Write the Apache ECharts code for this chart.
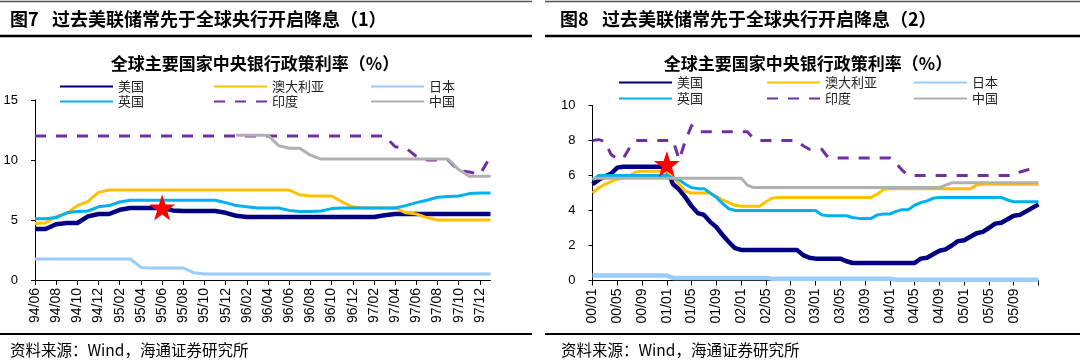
<!DOCTYPE html>
<html><head><meta charset="utf-8">
<script src="https://cdn.jsdelivr.net/npm/echarts@6/dist/echarts.min.js"></script>
<style>html,body{margin:0;padding:0;background:#fff}#c{width:1080px;height:360px}</style>
</head><body><div id="c"></div>
<script>
// ---- Left chart (图7) ----
const catL = ['94/06','94/07','94/08','94/09','94/10','94/11','94/12','95/01','95/02','95/03','95/04','95/05','95/06','95/07','95/08','95/09','95/10','95/11','95/12','96/01','96/02','96/03','96/04','96/05','96/06','96/07','96/08','96/09','96/10','96/11','96/12','97/01','97/02','97/03','97/04','97/05','97/06','97/07','97/08','97/09','97/10','97/11','97/12','98/01'];
const usL = [4.25,4.25,4.65,4.75,4.75,5.3,5.5,5.5,5.85,6.0,6.0,6.0,6.0,5.8,5.75,5.75,5.75,5.75,5.6,5.35,5.25,5.25,5.25,5.25,5.25,5.25,5.25,5.25,5.25,5.25,5.25,5.25,5.25,5.4,5.5,5.5,5.5,5.5,5.5,5.5,5.5,5.5,5.5,5.5];
const auL = [4.7,4.75,5.3,5.55,6.2,6.55,7.3,7.5,7.5,7.5,7.5,7.5,7.5,7.5,7.5,7.5,7.5,7.5,7.5,7.5,7.5,7.5,7.5,7.5,7.5,7.1,7.0,7.0,7.0,6.5,6.1,6.0,6.0,6.0,6.0,5.6,5.5,5.2,5.0,5.0,5.0,5.0,5.0,5.0];
const jpL = [1.75,1.75,1.75,1.75,1.75,1.75,1.75,1.75,1.75,1.75,1.05,1.0,1.0,1.0,1.0,0.6,0.5,0.5,0.5,0.5,0.5,0.5,0.5,0.5,0.5,0.5,0.5,0.5,0.5,0.5,0.5,0.5,0.5,0.5,0.5,0.5,0.5,0.5,0.5,0.5,0.5,0.5,0.5,0.5];
const ukL = [5.1,5.1,5.2,5.6,5.7,5.75,6.1,6.2,6.5,6.65,6.65,6.65,6.65,6.65,6.65,6.65,6.65,6.65,6.45,6.2,6.1,6.0,6.0,6.0,5.8,5.7,5.7,5.75,5.95,6.0,6.0,6.0,6.0,6.0,6.0,6.2,6.45,6.65,6.9,6.95,7.0,7.2,7.25,7.25];
const inL = [12,12,12,12,12,12,12,12,12,12,12,12,12,12,12,12,12,12,12,12,12,12,12,12,12,12,12,12,12,12,12,12,12,12,11.1,11.0,10.3,10.0,10.0,10.0,9.1,9.0,8.8,10.3];
const cnL = [null,null,null,null,null,null,null,null,null,null,null,null,null,null,null,null,null,null,null,12.06,12.06,12.06,12.06,11.2,10.98,10.98,10.4,10.08,10.08,10.08,10.08,10.08,10.08,10.08,10.08,10.08,10.08,10.08,10.08,10.08,9.2,8.64,8.64,8.64];
const starL = ['95/06', 6.05];

// ---- Right chart (图8) ----
const catR = ['00/01','00/02','00/03','00/04','00/05','00/06','00/07','00/08','00/09','00/10','00/11','00/12','01/01','01/02','01/03','01/04','01/05','01/06','01/07','01/08','01/09','01/10','01/11','01/12','02/01','02/02','02/03','02/04','02/05','02/06','02/07','02/08','02/09','02/10','02/11','02/12','03/01','03/02','03/03','03/04','03/05','03/06','03/07','03/08','03/09','03/10','03/11','03/12','04/01','04/02','04/03','04/04','04/05','04/06','04/07','04/08','04/09','04/10','04/11','04/12','05/01','05/02','05/03','05/04','05/05','05/06','05/07','05/08','05/09','05/10','05/11','05/12','06/01'];
const usR = [5.5,5.75,5.95,6.1,6.45,6.5,6.5,6.5,6.5,6.5,6.5,6.5,6.4,5.5,5.2,4.75,4.25,3.85,3.75,3.35,3.05,2.6,2.2,1.85,1.75,1.75,1.75,1.75,1.75,1.75,1.75,1.75,1.75,1.75,1.45,1.3,1.25,1.25,1.25,1.25,1.25,1.1,1.0,1.0,1.0,1.0,1.0,1.0,1.0,1.0,1.0,1.0,1.0,1.25,1.3,1.5,1.7,1.78,2.0,2.25,2.3,2.5,2.7,2.78,3.0,3.25,3.3,3.5,3.7,3.75,3.95,4.15,4.35];
const auR = [5.0,5.3,5.5,5.65,5.8,5.85,6.0,6.2,6.25,6.25,6.25,6.25,6.25,5.9,5.5,5.1,5.0,5.0,5.0,5.0,4.8,4.6,4.45,4.3,4.25,4.25,4.25,4.25,4.5,4.7,4.75,4.75,4.75,4.75,4.75,4.75,4.75,4.75,4.75,4.75,4.75,4.75,4.75,4.75,4.75,4.75,4.95,5.2,5.25,5.25,5.25,5.25,5.25,5.25,5.25,5.25,5.25,5.25,5.25,5.25,5.25,5.25,5.45,5.5,5.5,5.5,5.5,5.5,5.5,5.5,5.5,5.5,5.5];
const jpR = [0.28,0.28,0.28,0.28,0.28,0.28,0.28,0.28,0.28,0.28,0.28,0.28,0.28,0.15,0.15,0.15,0.15,0.15,0.15,0.15,0.15,0.15,0.15,0.15,0.15,0.15,0.15,0.15,0.15,0.1,0.1,0.1,0.1,0.1,0.1,0.1,0.1,0.1,0.1,0.1,0.1,0.1,0.1,0.1,0.1,0.1,0.1,0.1,0.1,0.05,0.05,0.05,0.05,0.05,0.05,0.05,0.05,0.05,0.05,0.05,0.05,0.05,0.05,0.05,0.05,0.05,0.05,0.05,0.05,0.05,0.05,0.05,0.05];
const ukR = [5.75,6.0,6.0,6.0,6.0,6.0,6.0,6.0,6.0,6.0,6.0,6.0,6.0,5.85,5.75,5.5,5.3,5.25,5.25,5.0,4.75,4.4,4.1,4.0,4.0,4.0,4.0,4.0,4.0,4.0,4.0,4.0,4.0,4.0,4.0,4.0,4.0,3.75,3.7,3.7,3.7,3.7,3.6,3.55,3.55,3.55,3.75,3.8,3.8,3.95,4.05,4.05,4.3,4.45,4.55,4.7,4.75,4.75,4.75,4.75,4.75,4.75,4.75,4.75,4.75,4.75,4.75,4.6,4.5,4.5,4.5,4.5,4.5];
const inR = [8.0,8.05,7.95,7.2,6.95,7.0,7.6,8.0,8.0,8.0,8.0,8.0,8.0,8.0,6.9,8.0,8.85,8.5,8.5,8.5,8.5,8.5,8.5,8.5,8.5,8.5,8.1,8.0,8.0,8.0,8.0,8.0,8.0,8.0,7.7,7.5,7.5,7.5,7.05,7.0,7.0,7.0,7.0,7.0,7.0,7.0,7.0,7.0,7.0,6.7,6.3,6.0,6.0,6.0,6.0,6.0,6.0,6.0,6.0,6.0,6.0,6.0,6.0,6.0,6.0,6.0,6.0,6.0,6.0,6.2,6.3,6.4,6.5];
const cnR = [5.85,5.85,5.85,5.85,5.85,5.85,5.85,5.85,5.85,5.85,5.85,5.85,5.85,5.85,5.85,5.85,5.85,5.85,5.85,5.85,5.85,5.85,5.85,5.85,5.85,5.45,5.31,5.31,5.31,5.31,5.31,5.31,5.31,5.31,5.31,5.31,5.31,5.31,5.31,5.31,5.31,5.31,5.31,5.31,5.31,5.31,5.31,5.31,5.31,5.31,5.31,5.31,5.31,5.31,5.31,5.31,5.31,5.45,5.58,5.58,5.58,5.58,5.58,5.58,5.58,5.58,5.58,5.58,5.58,5.58,5.58,5.58,5.58];
const starR = ['01/01', 6.66];

const names = ['美国','澳大利亚','日本','英国','印度','中国'];
const yTicksL = {min:0, max:15, interval:5};
const yTicksR = {min:0, max:10, interval:2};

const colors = {'美国':'#000080','澳大利亚':'#FFC000','日本':'#99CCFF','英国':'#00B0F0','印度':'#7030A0','中国':'#B0B0B0'};
const widths = {'美国':4.5,'澳大利亚':3,'日本':3,'英国':3,'印度':3,'中国':3};
const STAR = 'path://M50,0 L61.8,35.1 L98.1,35.1 L68.8,56.8 L79.4,91 L50,70 L20.6,91 L31.2,56.8 L1.9,35.1 L38.2,35.1 Z';
const CJK = '"Noto Sans CJK SC", sans-serif';
const LAT = '"Liberation Sans", Arial, sans-serif';

function mkSeries(gi, dataArr, star, jpWidth){
  return names.map((n, i) => {
    const s = {
      name: n, type: 'line', xAxisIndex: gi, yAxisIndex: gi, data: dataArr[i],
      symbol: 'none', smooth: false, connectNulls: false,
      lineStyle: {color: colors[n], width: (n==='日本'? jpWidth : widths[n]), type: (n==='印度' ? [11,10] : 'solid'), join:'round'},
      itemStyle: {color: colors[n]}, z: 2 + i
    };
    if (n === '美国') {
      s.markPoint = {symbol: STAR, symbolSize: [26,26], itemStyle:{color:'#FF0000'}, label:{show:false}, z: 20,
        data: [{coord: star}]};
    }
    return s;
  });
}

function mkX(gi, cats, labelFn, tickFn){
  return {type:'category', gridIndex:gi, data:cats, boundaryGap:false,
    axisLine:{show:true, lineStyle:{color:'#000', width:1}},
    axisTick:{show:true, interval:tickFn, length:5, lineStyle:{color:'#000'}},
    axisLabel:{interval:labelFn, rotate:90, fontSize:14, fontFamily:LAT, color:'#000', margin:8},
    splitLine:{show:false}};
}
function mkY(gi, t){
  return {type:'value', gridIndex:gi, min:t.min, max:t.max, interval:t.interval,
    axisLine:{show:true, lineStyle:{color:'#000', width:1}},
    axisTick:{show:true, length:4, lineStyle:{color:'#000'}},
    axisLabel:{fontSize:13, fontFamily:LAT, color:'#000', margin:17},
    splitLine:{show:false}};
}

function legendItem(name, x, yc){
  return {data:[name], left:x, top:yc-7, itemWidth:53, itemHeight:14, padding:0, itemGap:0,
    selectedMode:false, itemStyle:{color:'rgba(0,0,0,0)', borderWidth:0, opacity:0},
    textStyle:{fontSize:13, fontFamily:CJK, color:'#222'}};
}

const legends = [
  legendItem('美国', 59, 87), legendItem('澳大利亚', 213, 87), legendItem('日本', 370, 87),
  legendItem('英国', 59, 102), legendItem('印度', 213, 102), legendItem('中国', 370, 102),
  legendItem('美国', 618, 83), legendItem('澳大利亚', 766, 83), legendItem('日本', 913, 83),
  legendItem('英国', 618, 99), legendItem('印度', 766, 99), legendItem('中国', 913, 99)
];

function txt(x, y, s, size, weight, align, fam){
  return {type:'text', x:x, y:y, silent:true, style:{text:s, fontSize:size, fontWeight:weight, fontFamily:fam||CJK, fill:'#000', textAlign:align||'left', textVerticalAlign:'middle'}};
}
function ln(x1,y1,x2,y2,w,c){
  return {type:'line', silent:true, shape:{x1:x1,y1:y1,x2:x2,y2:y2}, style:{stroke:c||'#000', lineWidth:w}};
}

const graphics = [
  ln(0,1.5,532,1.5,1.5,'#555'), ln(545,1.5,1080,1.5,1.5,'#555'),
  ln(0,36,532,36,2.5), ln(545,36,1080,36,2.5),
  ln(0,334,532,334,2), ln(545,334,1080,334,2),
  txt(10,19,'图7',18,'bold'), txt(52,19,'过去美联储常先于全球央行开启降息（1）',18,'bold'),
  txt(560,19,'图8',18,'bold'), txt(602,19,'过去美联储常先于全球央行开启降息（2）',18,'bold'),
  txt(255,64,'全球主要国家中央银行政策利率（%）',17,'bold','center'),
  txt(808,64,'全球主要国家中央银行政策利率（%）',17,'bold','center'),
  txt(10,350,'资料来源：Wind，海通证券研究所',15.5,'normal'),
  txt(561,350,'资料来源：Wind，海通证券研究所',15.5,'normal')
];

const chart = echarts.init(document.getElementById('c'), null, {renderer:'canvas'});
chart.setOption({
  animation:false, backgroundColor:'#fff',
  grid:[{left:35, top:100, width:455.5, height:180, outerBoundsMode:'none'},
        {left:592.5, top:105.5, width:446, height:175, outerBoundsMode:'none'}],
  xAxis:[mkX(0, catL, (i)=> i%2===0 && i<=42, (i)=> i%2===0),
         mkX(1, catR, (i)=> i%4===0 && i<72, (i)=> i%4===0)],
  yAxis:[mkY(0, yTicksL), mkY(1, yTicksR)],
  legend: legends,
  graphic: graphics,
  series: mkSeries(0, [usL, auL, jpL, ukL, inL, cnL], starL, 3)
          .concat(mkSeries(1, [usR, auR, jpR, ukR, inR, cnR], starR, 4.5))
});
</script></body></html>
